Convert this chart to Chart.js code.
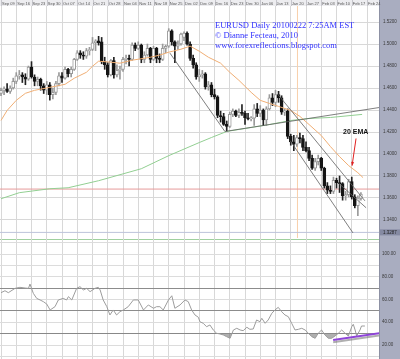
<!DOCTYPE html>
<html>
<head>
<meta charset="utf-8">
<script src="https://cdn.jsdelivr.net/npm/chart.js@4.4.0/dist/chart.umd.min.js"></script>
<style>
  html, body { margin: 0; padding: 0; background: #fff; }
  #wrap { position: relative; width: 400px; height: 359px; overflow: hidden; }
  #priceCv { position: absolute; left: 0; top: 0; }
  #rsiCv { position: absolute; left: 0; top: 238px; }
  .title { position: absolute; left: 215px; font-family: "Liberation Serif", serif; font-size: 8.5px; line-height: 10px; color: #3232ff; white-space: nowrap; }
  #emaTxt { position: absolute; left: 343px; top: 128px; font: bold 7px "Liberation Sans", Arial, sans-serif; color: #111; white-space: nowrap; }
</style>
</head>
<body>
<div id="wrap">
  <canvas id="priceCv" width="400" height="238"></canvas>
  <canvas id="rsiCv" width="400" height="121"></canvas>
  <div class="title" style="top:20px">EURUSD Daily 20100222 7:25AM EST</div>
  <div class="title" style="top:30px">© Dianne Fecteau, 2010</div>
  <div class="title" style="top:40px">www.forexreflections.blogspot.com</div>
  <div id="emaTxt">20 EMA</div>
</div>
<script>
// EURUSD daily, Sep 09 2009 .. Feb 22 2010 (one candle per weekday)

const dateLabels = ['Sep 09','Sep 16','Sep 23','Sep 30','Oct 07','Oct 14','Oct 21','Oct 28',
  'Nov 04','Nov 11','Nov 18','Nov 25','Dec 02','Dec 09','Dec 16','Dec 23','Dec 30',
  'Jan 06','Jan 13','Jan 20','Jan 27','Feb 03','Feb 10','Feb 17','Feb 24'];
const priceTicks = [1.34, 1.36, 1.38, 1.40, 1.42, 1.44, 1.46, 1.48, 1.50, 1.52];
const rsiTicks = [20, 40, 60, 80, 100];
const rsiLevels = [30, 50, 70];

const opens = [1.4550,1.4580,1.4590,1.4570,1.4600,1.4660,1.4710,1.4720,1.4700,1.4680,
  1.4790,1.4700,1.4660,1.4680,1.4620,1.4580,1.4630,1.4540,1.4560,1.4640,
  1.4710,1.4690,1.4770,1.4730,1.4770,1.4860,1.4920,1.4900,1.4890,1.4940,
  1.4950,1.5010,1.5030,1.5020,1.4840,1.4810,1.4720,1.4850,1.4720,1.4760,
  1.4770,1.4860,1.4870,1.4860,1.4990,1.4960,1.4990,1.4860,1.4900,1.4960,
  1.4860,1.4960,1.4870,1.4860,1.4960,1.4980,1.5120,1.5020,1.4980,1.5000,
  1.5060,1.5100,1.5000,1.4870,1.4810,1.4700,1.4720,1.4730,1.4610,1.4630,
  1.4540,1.4520,1.4350,1.4340,1.4270,1.4250,1.4360,1.4390,1.4350,1.4380,
  1.4370,1.4330,1.4320,1.4325,1.4410,1.4370,1.4400,1.4310,1.4410,1.4510,
  1.4470,1.4540,1.4510,1.4380,1.4390,1.4160,1.4110,1.4090,1.4150,1.4140,
  1.4060,1.4030,1.3960,1.3870,1.3930,1.3960,1.3870,1.3710,1.3670,1.3660,
  1.3760,1.3740,1.3730,1.3620,1.3630,1.3750,1.3610,1.3530,1.3595];
const highs = [1.4600,1.4610,1.4640,1.4620,1.4690,1.4740,1.4760,1.4740,1.4730,1.4800,
  1.4840,1.4720,1.4700,1.4690,1.4640,1.4660,1.4650,1.4600,1.4660,1.4740,
  1.4740,1.4790,1.4780,1.4790,1.4870,1.4940,1.4940,1.4930,1.4960,1.4970,
  1.5060,1.5040,1.5070,1.5060,1.4880,1.4830,1.4860,1.4880,1.4810,1.4800,
  1.4880,1.4900,1.4900,1.5010,1.5010,1.5020,1.5000,1.4930,1.5000,1.4970,
  1.4980,1.4970,1.4910,1.5000,1.4990,1.5140,1.5130,1.5030,1.5030,1.5100,
  1.5110,1.5110,1.5020,1.4900,1.4830,1.4770,1.4760,1.4740,1.4660,1.4650,
  1.4590,1.4530,1.4390,1.4370,1.4300,1.4380,1.4410,1.4400,1.4410,1.4450,
  1.4390,1.4370,1.4340,1.4450,1.4460,1.4440,1.4410,1.4430,1.4540,1.4550,
  1.4580,1.4570,1.4530,1.4410,1.4410,1.4180,1.4170,1.4170,1.4190,1.4170,
  1.4110,1.4060,1.3990,1.3960,1.3990,1.3970,1.3880,1.3740,1.3710,1.3790,
  1.3780,1.3800,1.3740,1.3660,1.3770,1.3790,1.3630,1.3620,1.3650];
const lows = [1.4530,1.4540,1.4560,1.4550,1.4590,1.4640,1.4680,1.4650,1.4630,1.4670,
  1.4690,1.4620,1.4620,1.4580,1.4550,1.4540,1.4490,1.4500,1.4540,1.4620,
  1.4650,1.4680,1.4700,1.4700,1.4760,1.4850,1.4870,1.4860,1.4870,1.4900,
  1.4940,1.4940,1.4990,1.4820,1.4770,1.4700,1.4710,1.4690,1.4700,1.4680,
  1.4750,1.4820,1.4800,1.4850,1.4940,1.4950,1.4830,1.4830,1.4890,1.4830,
  1.4850,1.4830,1.4830,1.4850,1.4920,1.4970,1.4990,1.4830,1.4950,1.4990,
  1.5030,1.4990,1.4850,1.4780,1.4680,1.4660,1.4690,1.4590,1.4580,1.4520,
  1.4500,1.4330,1.4290,1.4260,1.4210,1.4240,1.4340,1.4340,1.4330,1.4350,
  1.4270,1.4310,1.4300,1.4260,1.4340,1.4340,1.4260,1.4260,1.4400,1.4440,
  1.4430,1.4470,1.4360,1.4350,1.4140,1.4080,1.4030,1.4070,1.4100,1.4030,
  1.4020,1.3940,1.3860,1.3850,1.3900,1.3850,1.3690,1.3640,1.3640,1.3640,
  1.3690,1.3650,1.3580,1.3580,1.3610,1.3590,1.3510,1.3440,1.3580];
const closes = [1.4580,1.4590,1.4570,1.4600,1.4660,1.4710,1.4720,1.4700,1.4680,1.4790,
  1.4700,1.4660,1.4680,1.4620,1.4580,1.4630,1.4540,1.4560,1.4640,1.4710,
  1.4690,1.4770,1.4730,1.4770,1.4860,1.4920,1.4900,1.4890,1.4940,1.4950,
  1.5010,1.5030,1.5010,1.4840,1.4810,1.4720,1.4850,1.4720,1.4760,1.4770,
  1.4860,1.4870,1.4860,1.4990,1.4960,1.4990,1.4860,1.4900,1.4960,1.4860,
  1.4960,1.4870,1.4860,1.4960,1.4980,1.5120,1.5020,1.4980,1.5000,1.5090,
  1.5100,1.5000,1.4870,1.4810,1.4700,1.4720,1.4730,1.4610,1.4630,1.4540,
  1.4520,1.4350,1.4340,1.4270,1.4250,1.4360,1.4390,1.4350,1.4380,1.4370,
  1.4330,1.4320,1.4325,1.4410,1.4370,1.4400,1.4310,1.4410,1.4510,1.4470,
  1.4540,1.4510,1.4380,1.4390,1.4160,1.4110,1.4090,1.4150,1.4140,1.4060,
  1.4030,1.3960,1.3870,1.3930,1.3960,1.3870,1.3710,1.3670,1.3660,1.3760,
  1.3740,1.3730,1.3620,1.3630,1.3750,1.3610,1.3530,1.3600,1.3635];

// 20 EMA (orange): candle index -> price
const emaIdx = [0,2,5,8,11,16,21,24,28,30,32,36,39,43,49,52,55,59,62,65,
  68,72,75,78,82,85,88,91,95,98,101,105,108,111,114,117,118.7];
const emaVal = [1.4305,1.4396,1.4488,1.4552,1.4579,1.4606,1.4634,1.4689,1.4743,1.4798,
  1.4844,1.4835,1.4826,1.4853,1.4880,1.4899,1.4926,1.4953,1.4981,1.4935,
  1.4880,1.4826,1.4743,1.4670,1.4561,1.4488,1.4460,1.4433,1.4396,1.4342,
  1.4268,1.4168,1.4068,1.3976,1.3894,1.3830,1.3785];
// long moving average (green)
const maIdx = [0,6,16,22,32,46,55,65,69,74,82,88,95,101,108,118.4];
const maVal = [1.3593,1.3648,1.3684,1.3693,1.3757,1.3866,1.3985,1.4104,1.4150,1.4205,
  1.4241,1.4268,1.4305,1.4323,1.4332,1.4360];

const redLevel = 1.3681;
const cursorLevel = 1.3287;
const markIdx = 97.2;   // orange vertical marker

// hand drawn trend lines: [idx1, price1, idx2, price2]
const trendlines = [
  [55.4, 1.4917, 73.4, 1.4205],
  [73.4, 1.4205, 124.3, 1.4424],
  [90.8, 1.4542, 119.3, 1.3574],
  [94.8, 1.4122, 115.4, 1.3282],
  [110.5, 1.3739, 119.7, 1.3511]
];

// oscillator panel
const rsiIdx = [0,1.3,2.4,4.6,6.2,7.9,9.0,9.5,10.6,11.7,12.8,13.9,15.0,16.1,17.7,18.8,20.4,21.5,22.1,23.2,
  24.8,25.9,27.0,28.1,29.2,30.8,31.9,32.5,33.5,34.7,35.7,36.8,37.9,39.0,40.1,41.7,43.4,45.0,46.7,48.3,
  50.0,51.0,52.1,53.2,54.9,56.0,57.0,58.7,60.3,61.4,62.5,63.6,64.7,65.2,66.3,67.4,68.5,69.6,70.7,71.8,
  72.9,74.0,75.1,76.2,77.3,78.4,79.4,80.6,81.6,82.7,83.8,84.9,85.5,86.6,87.6,88.8,89.8,90.9,92.0,93.1,
  94.2,95.3,96.4,97.5,98.6,99.7,100.8,101.9,103.0,104.0,105.1,106.2,107.3,108.4,109.5,110.6,111.7,112.8,113.9,115.0,
  115.5,116.1,116.6,117.7,118.2,119.3];
const rsiVal = [66.0,67.7,66.0,69.8,70.7,70.1,69.8,73.6,65.4,61.0,59.6,58.1,56.0,50.8,53.7,59.6,61.0,59.6,62.5,59.6,
  69.8,71.3,68.4,69.8,66.9,69.8,70.7,68.4,59.6,53.7,46.4,50.8,46.4,49.3,50.8,53.7,59.6,59.6,50.8,55.2,
  52.3,53.7,53.7,50.8,59.6,63.3,52.3,55.2,59.6,58.1,50.8,46.4,44.4,40.5,39.1,36.1,37.6,33.2,30.3,29.7,
  28.8,27.3,25.9,33.2,34.7,33.2,32.6,35.6,33.8,34.1,42.0,40.5,43.5,39.1,42.0,47.9,50.8,53.1,49.3,46.4,
  44.9,39.1,33.2,33.8,34.7,33.2,30.3,27.3,25.9,30.3,33.2,28.8,25.9,25.9,27.9,30.3,33.2,30.3,27.9,36.1,
  38.2,33.2,27.9,33.2,36.7,36.7];
const purpleIdx = [108.9, 124.3];
const purpleVal = [24.4, 30.5];

// --- layout constants
const xMin = -0.33, xMax = 123.93;
const pMin = 1.3236, pMax = 1.5346;
const rMin = 7.7, rMax = 114.07;
const panelColor = '#a9adc0';

function pts(xs, ys) { return xs.map((x, i) => ({ x: x, y: ys[i] })); }
const up = i => closes[i] >= opens[i];

const bodyData = opens.map((o, i) => ({ x: i, y: [o, closes[i]] }));
const wickData = opens.map((o, i) => ({ x: i, y: [lows[i], highs[i]] }));

function lineDs(data, color, width, order) {
  return { type: 'line', data: data, borderColor: color, borderWidth: width, pointRadius: 0,
           tension: 0, fill: false, order: order };
}

// axis panel + date strip backgrounds
const panelBg = {
  id: 'panelBg',
  beforeDraw(chart, args, opts) {
    const { ctx, chartArea: a, width, height } = chart;
    ctx.save();
    ctx.fillStyle = panelColor;
    ctx.fillRect(a.right, 0, width - a.right, height);
    ctx.fillStyle = '#8d91a4';
    ctx.fillRect(a.right, 0, 1, height);
    if (opts.strip) {
      ctx.fillStyle = '#ededf0';
      ctx.fillRect(0, 0, a.right, a.top);
      const xs = chart.scales.x;
      ctx.fillStyle = '#c6c6cc';
      xs.ticks.forEach(t => {
        ctx.fillRect(Math.round(xs.getPixelForValue(t.value)), 0, 1, a.top);
      });
    }
    if (opts.topLine) {
      ctx.fillStyle = '#9fd09f';
      ctx.fillRect(0, 1, a.right, 1);
    }
    ctx.restore();
  }
};

// arrow to the 20 EMA + cursor price box
const notes = {
  id: 'notes',
  afterDraw(chart) {
    const { ctx, chartArea: a, width } = chart;
    const xs = chart.scales.x, ys = chart.scales.y;
    const x1 = xs.getPixelForValue(116.4), y1 = ys.getPixelForValue(1.4141);
    const x2 = xs.getPixelForValue(115.1), y2 = ys.getPixelForValue(1.3894);
    ctx.save();
    ctx.strokeStyle = '#e02020';
    ctx.fillStyle = '#e02020';
    ctx.lineWidth = 1;
    ctx.beginPath(); ctx.moveTo(x1, y1); ctx.lineTo(x2, y2); ctx.stroke();
    const ang = Math.atan2(y2 - y1, x2 - x1);
    ctx.beginPath();
    ctx.moveTo(x2, y2);
    ctx.lineTo(x2 - 4 * Math.cos(ang - 0.4), y2 - 4 * Math.sin(ang - 0.4));
    ctx.lineTo(x2 - 4 * Math.cos(ang + 0.4), y2 - 4 * Math.sin(ang + 0.4));
    ctx.closePath(); ctx.fill();
    // cursor price label on the axis
    const cy = ys.getPixelForValue(cursorLevel);
    ctx.fillStyle = '#858aa2';
    ctx.fillRect(a.right + 1, cy - 3, width - a.right - 1, 6);
    ctx.fillStyle = '#222';
    ctx.font = '4.5px "Liberation Sans", sans-serif';
    ctx.textBaseline = 'middle';
    ctx.fillText(cursorLevel.toFixed(4), a.right + 4, cy);
    ctx.restore();
  }
};

const xScale = (showLabels) => ({
  type: 'linear', min: xMin, max: xMax, offset: false,
  position: showLabels ? 'top' : 'bottom',
  afterBuildTicks: s => { s.ticks = dateLabels.map((_, k) => ({ value: k * 5 })); },
  afterFit: s => { s.height = showLabels ? 6 : 0; s.paddingLeft = 0; s.paddingRight = 0; },
  ticks: { display: showLabels, autoSkip: false, maxRotation: 0, align: 'start', labelOffset: 1, padding: 0,
           font: { size: 4, family: 'Liberation Sans' }, color: '#555',
           callback: (v, k) => dateLabels[k] },
  grid: { color: '#d8d8d8', drawTicks: false, offset: false },
  border: { display: false }
});

Chart.defaults.animation = false;

new Chart(document.getElementById('priceCv'), {
  type: 'bar',
  data: {
    datasets: [
      ...trendlines.map(t => lineDs([{ x: t[0], y: t[1] }, { x: t[2], y: t[3] }], '#606060', 0.8, 0)),
      lineDs(pts(emaIdx, emaVal), '#f0ae74', 1, 0),
      { type: 'bar', data: bodyData, order: 1, grouped: false, barThickness: 3, minBarLength: 1,
        borderWidth: 1, borderSkipped: false,
        backgroundColor: c => up(c.dataIndex) ? '#ffffff' : '#151515',
        borderColor: c => up(c.dataIndex) ? '#9a9a9a' : '#151515' },
      { type: 'bar', data: wickData, order: 2, grouped: false, barThickness: 1,
        backgroundColor: c => up(c.dataIndex) ? '#9a9a9a' : '#222222' },
      lineDs(pts(maIdx, maVal), '#92cf92', 1, 3),
      lineDs([{ x: xMin, y: redLevel }, { x: xMax, y: redLevel }], '#e69a9a', 1, 3),
      lineDs([{ x: xMin, y: cursorLevel }, { x: xMax, y: cursorLevel }], '#bcc3da', 1, 4),
      lineDs([{ x: markIdx, y: pMin }, { x: markIdx, y: pMax }], '#f8d0ab', 1, 4)
    ]
  },
  options: {
    responsive: false, events: [],
    layout: { padding: 0 },
    plugins: { legend: { display: false }, tooltip: { enabled: false }, panelBg: { strip: true } },
    scales: {
      x: xScale(true),
      y: {
        position: 'right', min: pMin, max: pMax,
        afterBuildTicks: s => { s.ticks = priceTicks.map(v => ({ value: v })); },
        afterFit: s => { s.width = 21; s.paddingTop = 0; s.paddingBottom = 0; },
        ticks: { padding: 4, font: { size: 4.5, family: 'Liberation Sans' }, color: '#3a3a3a',
                 callback: v => v.toFixed(4) },
        grid: { color: '#d8d8d8', drawTicks: false },
        border: { display: false }
      }
    }
  },
  plugins: [panelBg, notes]
});

new Chart(document.getElementById('rsiCv'), {
  type: 'line',
  data: {
    datasets: [
      { data: pts(purpleIdx, purpleVal.map(v => v - 2)), borderColor: 'rgba(110,110,110,0.55)', borderWidth: 2,
        pointRadius: 0, order: 1 },
      { data: pts(purpleIdx, purpleVal), borderColor: '#8e44d8', borderWidth: 2, pointRadius: 0, order: 0 },
      { data: pts(rsiIdx, rsiVal), borderColor: '#9c9c9c', borderWidth: 1, pointRadius: 0, tension: 0,
        fill: { target: { value: 30 }, above: 'rgba(0,0,0,0)', below: 'rgba(110,110,110,0.55)' }, order: 2 }
    ]
  },
  options: {
    responsive: false, events: [],
    layout: { padding: 0 },
    plugins: { legend: { display: false }, tooltip: { enabled: false }, panelBg: { topLine: true } },
    scales: {
      x: xScale(false),
      y: {
        position: 'right', min: rMin, max: rMax,
        afterBuildTicks: s => { s.ticks = [10, 20, 30, 40, 50, 60, 70, 80, 90, 100, 110].map(v => ({ value: v })); },
        afterFit: s => { s.width = 21; s.paddingTop = 0; s.paddingBottom = 0; },
        ticks: { padding: 3, font: { size: 4.5, family: 'Liberation Sans' }, color: '#3a3a3a',
                 callback: v => rsiTicks.includes(v) ? v.toFixed(2) : '' },
        grid: { color: c => rsiLevels.includes(c.tick.value) ? '#8c8c8c' : '#dcdcdc', drawTicks: false },
        border: { display: false }
      }
    }
  },
  plugins: [panelBg]
});
</script>
</body>
</html>
